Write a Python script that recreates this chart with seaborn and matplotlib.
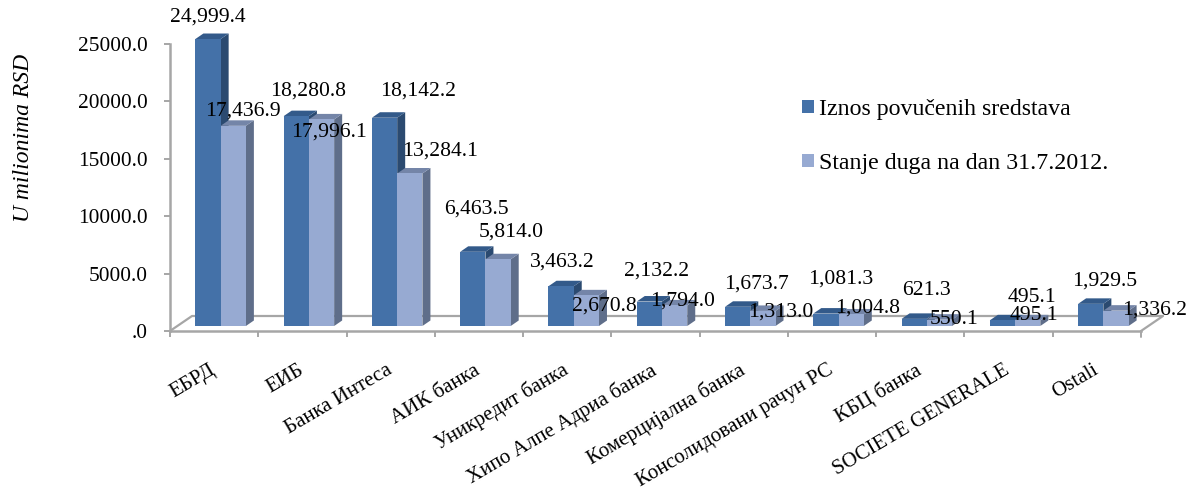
import numpy as np
import pandas as pd
import matplotlib
matplotlib.use('Agg')
import matplotlib.pyplot as plt
import seaborn as sns
from matplotlib.patches import Polygon
from matplotlib.transforms import ScaledTranslation

banks = ['ЕБРД', 'ЕИБ', 'Банка Интеса', 'АИК банка', 'Уникредит банка',
         'Хипо Алпе Адриа банка', 'Комерцијална банка', 'Консолидовани рачун РС',
         'КБЦ банка', 'SOCIETE GENERALE', 'Ostali']
drawn = [24999.4, 18280.8, 18142.2, 6463.5, 3463.2, 2132.2, 1673.7, 1081.3, 621.3, 495.1, 1929.5]
debt = [17436.9, 17996.1, 13284.1, 5814.0, 2670.8, 1794.0, 1313.0, 1004.8, 550.1, 495.1, 1336.2]
series_names = ['Iznos povučenih sredstava', 'Stanje duga na dan 31.7.2012.']
y_ticks = [0, 5000, 10000, 15000, 20000, 25000]

# label shifts from the top of each bar, in pixels
drawn_shift = [(0, 22), (12, 25), (33, 27), (4, 43), (1, 24), (7, 30), (19, 23), (15, 35), (12, 28), (30, 23), (14, 23)]
debt_shift = [(10, 15), (7, -13), (30, 22), (13, 27), (18, -11), (8, 4), (18, -1), (16, 6), (15, 0), (6, 5), (39, 1)]

front_colors = ['#4471A8', '#97AAD2']
side_colors = ['#2B4A70', '#5F6E8A']
top_colors = ['#335A8A', '#7485A8']
grid_gray = '#A6A6A6'

W, H = 1195, 492
left, right, top, floor = 170, 1141, 44, 331
y_max = 25000

sns.set_theme(style='white')
plt.rcParams['font.family'] = ['Liberation Serif', 'DejaVu Serif']
fs = 15.6

df = pd.DataFrame({'bank': banks * 2,
                   'value': drawn + debt,
                   'series': [series_names[0]] * len(banks) + [series_names[1]] * len(banks)})

fig = plt.figure(figsize=(W / 100, H / 100), dpi=100)
ax = fig.add_axes([left / W, 1 - floor / H, (right - left) / W, (floor - top) / H])

sns.barplot(data=df, x='bank', y='value', hue='series', hue_order=series_names,
            palette=front_colors, width=0.572, gap=0, saturation=1, errorbar=None,
            legend=False, ax=ax, zorder=3, linewidth=0, edgecolor='none')
ax.set_xlim(-0.5, len(banks) - 0.5)
ax.set_ylim(0, y_max)

# pixel sizes in data units
px_x = (len(banks)) / (right - left)
px_y = y_max / (floor - top)

# the bars stand on the floor, a little behind the front edge
lift_x, lift_y = 6.5 * px_x, 5 * px_y
depth_x, depth_y = 8 * px_x, 5.5 * px_y

bars = list(ax.patches)[:2 * len(banks)]
for k, bar in enumerate(bars):
    s = k // len(banks)
    x0 = bar.get_x() + lift_x
    x1 = x0 + bar.get_width()
    y0 = lift_y
    y1 = lift_y + bar.get_height()
    bar.set_x(x0)
    bar.set_y(y0)
    order = 4 + 2 * s
    bar.set_zorder(order)
    bar.set_clip_on(False)
    ax.add_patch(Polygon([(x1, y0), (x1 + depth_x, y0 + depth_y), (x1 + depth_x, y1 + depth_y), (x1, y1)],
                         facecolor=side_colors[s], edgecolor='none', linewidth=0, zorder=order - 1, clip_on=False))
    ax.add_patch(Polygon([(x0, y1), (x1, y1), (x1 + depth_x, y1 + depth_y), (x0 + depth_x, y1 + depth_y)],
                         facecolor=top_colors[s], edgecolor='none', linewidth=0, zorder=order - 1, clip_on=False))
    shift = (drawn_shift + debt_shift)[k]
    ax.annotate(f'{bar.get_height():,.1f}', (x0 + bar.get_width() / 2, y1), xytext=shift,
                textcoords='offset pixels', ha='center', va='center', fontsize=fs,
                color='black', zorder=10, annotation_clip=False)

# floor of the chart
back_x, back_y = 22 * px_x, 15 * px_y
x_a, x_b = -0.5, len(banks) - 0.5
ax.plot([x_a, x_a + back_x, x_b + back_x, x_b], [0, back_y, back_y, 0],
        color=grid_gray, lw=1.6, clip_on=False, zorder=2)

for side in ['top', 'right']:
    ax.spines[side].set_visible(False)
for side in ['left', 'bottom']:
    ax.spines[side].set_color(grid_gray)
    ax.spines[side].set_linewidth(1.8)

ax.set_yticks(y_ticks)
ax.set_yticklabels(['.0'] + [f'{v:.1f}' for v in y_ticks[1:]], fontsize=15.4, color='black')
ax.tick_params(axis='y', length=4, width=1.4, color=grid_gray, pad=12, left=True)

ax.set_xticks(np.arange(len(banks)) - 0.5, minor=True)
ax.set_xticks(np.arange(len(banks)))
ax.set_xticklabels(banks, fontsize=15, rotation=30.5, ha='right', va='center', rotation_mode='anchor', color='black')
ax.tick_params(axis='x', which='major', length=0, pad=0, bottom=False)
ax.tick_params(axis='x', which='minor', length=4.5, width=1.4, color=grid_gray, bottom=True)
ax.plot([x_b, x_b], [0, -4.5 / 0.72 * px_y], color=grid_gray, lw=1.4, clip_on=False)
for lab in ax.get_xticklabels():
    lab.set_transform(lab.get_transform() + ScaledTranslation(0, -38 / 100, fig.dpi_scale_trans))

ax.set_xlabel('')
ax.set_ylabel('U milionima RSD', fontsize=17, style='italic', color='black')
ax.yaxis.set_label_coords((34 - left) / (right - left), (floor - 138) / (floor - top))

handles = [plt.Rectangle((0, 0), 1, 1, facecolor=c, edgecolor='none') for c in front_colors]
ax.legend(handles, series_names, loc='center left', frameon=False, fontsize=17.2,
          bbox_to_anchor=(802 / W, 1 - 136.5 / H), bbox_transform=fig.transFigure,
          handlelength=0.5, handleheight=0.5, handletextpad=0.2, labelspacing=1.38,
          borderpad=0, borderaxespad=0, labelcolor='black')

fig.savefig('out.png', dpi=100, facecolor='white')
